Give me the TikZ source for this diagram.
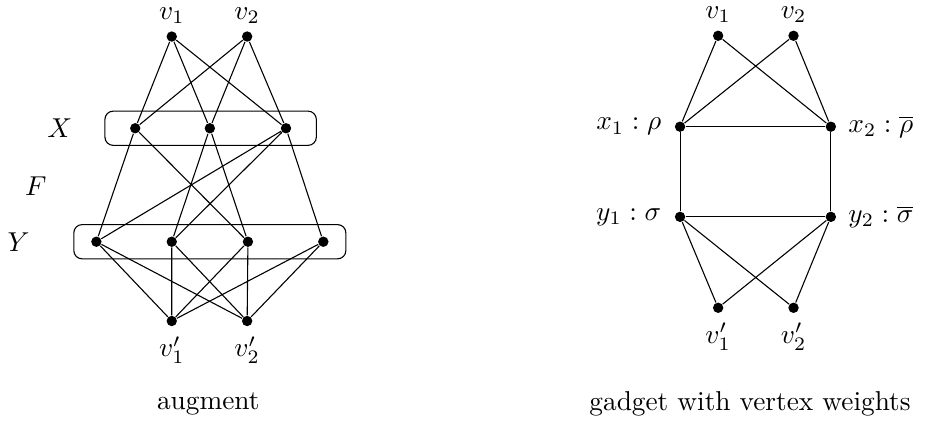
\documentclass[tikz,border=0pt]{standalone}
\usetikzlibrary{positioning}
\usepackage{amsmath}

\begin{document}
\begin{tikzpicture}[
        vtx/.style = {circle, fill=black, inner sep=0pt, minimum size=3.8pt},
        grp/.style = {rectangle, draw=black, line width=0.4pt, rounded corners=3pt, minimum height=0.44cm},
        edge/.style = {line width=0.4pt, draw=black},
        toplbl/.style = {inner sep=0.5pt, label distance=2pt},
        captxt/.style = {font=\normalsize}
    ]
        \useasboundingbox (0,0.05) rectangle (11.94,5.52);

        % Left: groups X and Y
        \node[grp, minimum width=2.72cm] (gx) at (2.71, 3.87) {};
        \node[grp, minimum width=3.50cm] (gy) at (2.70, 2.41) {};
        \node (lx) at (0.77, 3.87) {$X$};
        \node (lf) at (0.46, 3.13) {$F$};
        \node (ly) at (0.24, 2.41) {$Y$};

        % Left: vertices
        \node[vtx, label={[toplbl]above:$v_1$}] (a1) at (2.21, 5.05) {};
        \node[vtx, label={[toplbl]above:$v_2$}] (a2) at (3.18, 5.05) {};
        \node[vtx] (x1) at (1.74, 3.87) {};
        \node[vtx] (x2) at (2.70, 3.87) {};
        \node[vtx] (x3) at (3.68, 3.87) {};
        \node[vtx] (y1) at (1.24, 2.41) {};
        \node[vtx] (y2) at (2.21, 2.41) {};
        \node[vtx] (y3) at (3.19, 2.41) {};
        \node[vtx] (y4) at (4.16, 2.41) {};
        \node[vtx, label={[label distance=0pt]below:$v_1'$}] (b1) at (2.21, 1.39) {};
        \node[vtx, label={[label distance=0pt]below:$v_2'$}] (b2) at (3.18, 1.39) {};

        % Left: edges
        \draw[edge] (a1) -- (x1) (a1) -- (x2) (a1) -- (x3);
        \draw[edge] (a2) -- (x1) (a2) -- (x2) (a2) -- (x3);
        \draw[edge] (x1) -- (y1) (x1) -- (y3) (x2) -- (y2) (x2) -- (y3);
        \draw[edge] (x3) -- (y1) (x3) -- (y2) (x3) -- (y4);
        \draw[edge] (y1) -- (b1) (y1) -- (b2) (y2) -- (b1) (y2) -- (b2);
        \draw[edge] (y3) -- (b1) (y3) -- (b2) (y4) -- (b1) (y4) -- (b2);

        \node[captxt] (capl) at (2.68, 0.32) {augment};

        % Right: gadget
        \node[vtx, label={[toplbl]above:$v_1$}] (c1) at (9.24, 5.06) {};
        \node[vtx, label={[toplbl]above:$v_2$}] (c2) at (10.21, 5.06) {};
        \node[vtx, label={[label distance=1.3pt]left:$x_1:\rho$}] (p1) at (8.75, 3.89) {};
        \node[vtx, label={[label distance=0.8pt]right:$x_2:\overline{\rho}$}] (p2) at (10.69, 3.89) {};
        \node[vtx, label={[label distance=1.3pt]left:$y_1:\sigma$}] (q1) at (8.75, 2.73) {};
        \node[vtx, label={[label distance=0.8pt]right:$y_2:\overline{\sigma}$}] (q2) at (10.69, 2.73) {};
        \node[vtx, label={[label distance=0pt]below:$v_1'$}] (d1) at (9.24, 1.56) {};
        \node[vtx, label={[label distance=0pt]below:$v_2'$}] (d2) at (10.21, 1.56) {};

        \draw[edge] (c1) -- (p1) (c1) -- (p2) (c2) -- (p1) (c2) -- (p2);
        \draw[edge] (p1) -- (p2) (p1) -- (q1) (p2) -- (q2) (q1) -- (q2);
        \draw[edge] (q1) -- (d1) (q1) -- (d2) (q2) -- (d1) (q2) -- (d2);

        \node[captxt] (capr) at (9.65, 0.32) {gadget with vertex weights};

    \end{tikzpicture}
\end{document}
